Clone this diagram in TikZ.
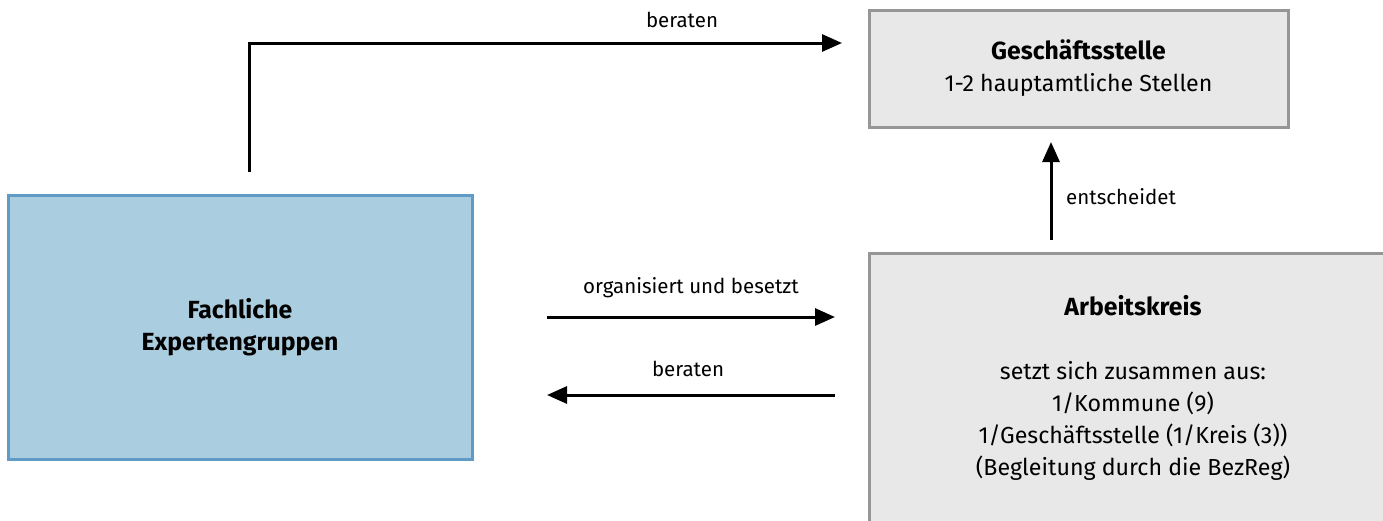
\documentclass[tikz,border=0pt]{standalone}
\usepackage{fontspec}
\setmainfont{Fira Sans}
\usetikzlibrary{arrows.meta}
\definecolor{boxgray}{RGB}{232,232,232}
\definecolor{edgegray}{RGB}{150,150,150}
\definecolor{boxblue}{RGB}{170,205,224}
\definecolor{edgeblue}{RGB}{95,155,198}
\newcommand{\hd}[1]{{\fontsize{24.8}{32}\selectfont\bfseries #1}}
\tikzset{
  gbox/.style={draw=edgegray, fill=boxgray, line width=3pt, inner sep=0pt, align=center, font=\fontsize{23.2}{32}\selectfont},
  bbox/.style={draw=edgeblue, fill=boxblue, line width=3pt, inner sep=0pt, align=center, font=\fontsize{23.2}{32}\selectfont},
  conn/.style={line width=3pt, -{Triangle[length=20pt,width=17pt]}},
  lbl/.style={font=\fontsize{20.5}{22}\selectfont, inner sep=0pt}
}
\begin{document}
\begin{tikzpicture}[x=1pt,y=-1pt]
\useasboundingbox (0,0) rectangle (1383,520);
\clip (0,0) rectangle (1383,520);
\node[gbox, minimum width=419pt, minimum height=117pt] (gs) at (1078.5,68.5)
  {\hd{Geschäftsstelle}\\1-2 hauptamtliche Stellen};
\node[gbox, minimum width=528pt, minimum height=269pt] (ak) at (1133,387.5)
  {\hd{Arbeitskreis}\\[32pt]setzt sich zusammen aus:\\1/Kommune (9)\\1/Geschäftsstelle (1/Kreis (3))\\(Begleitung durch die BezReg)};
\node[bbox, minimum width=464pt, minimum height=264pt] (fe) at (240,327)
  {\hd{Fachliche}\\\hd{Expertengruppen}};
\coordinate (t1) at (249,172);
\coordinate (t2) at (842,43);
\draw[conn] (t1) |- (t2);
\node[lbl] (lb1) at (682,20) {beraten};
\coordinate (e1) at (1051,240);
\coordinate (e2) at (1051,142);
\draw[conn] (e1) -- (e2);
\node[lbl, anchor=west] (lb2) at (1066,197) {entscheidet};
\coordinate (o1) at (547,317);
\coordinate (o2) at (835,317);
\draw[conn] (o1) -- (o2);
\node[lbl] (lb3) at (691,288) {organisiert und besetzt};
\coordinate (b1) at (835,395);
\coordinate (b2) at (547,395);
\draw[conn] (b1) -- (b2);
\node[lbl] (lb4) at (688,369) {beraten};
\end{tikzpicture}
\end{document}
